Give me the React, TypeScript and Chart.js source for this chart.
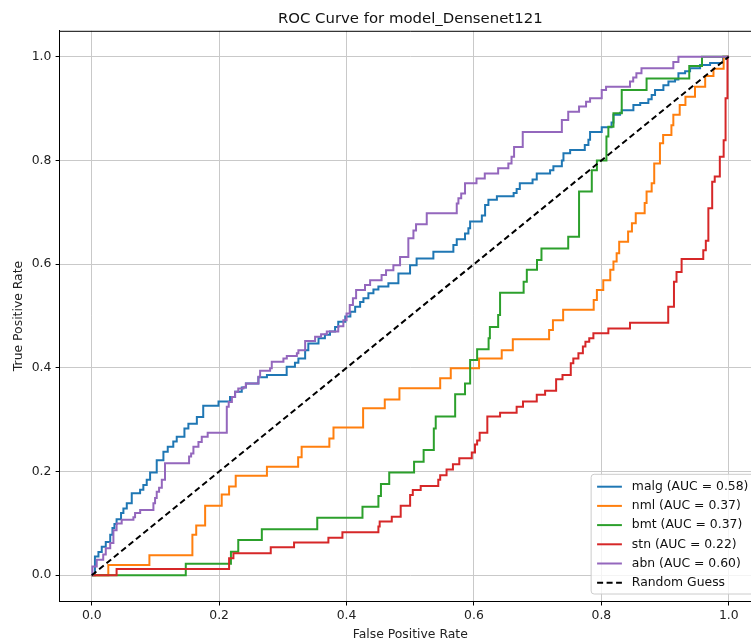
import React, { useEffect, useRef } from "react";
import { Chart, registerables } from "chart.js";

Chart.register(...registerables);

// ---------- data ----------
const seriesNames = ["malg", "nml", "bmt", "stn", "abn"];
const aucValues = [0.58, 0.37, 0.37, 0.22, 0.6];
const seriesColors = ["#1f77b4", "#ff7f0e", "#2ca02c", "#d62728", "#9467bd"];
const tickValues = [0, 0.2, 0.4, 0.6, 0.8, 1.0];

const malgFpr = [0, 0.005, 0.0105, 0.0157, 0.022, 0.029, 0.0325, 0.0356, 0.039, 0.046, 0.0497, 0.055, 0.0628, 0.0759, 0.081, 0.0863, 0.0916, 0.102, 0.1125, 0.1193, 0.128, 0.1334, 0.1455, 0.1517, 0.165, 0.175, 0.199, 0.217, 0.225, 0.2355, 0.242, 0.2616, 0.275, 0.306, 0.319, 0.3244, 0.335, 0.34, 0.356, 0.366, 0.374, 0.382, 0.387, 0.398, 0.406, 0.4135, 0.4213, 0.4265, 0.4343, 0.4422, 0.45, 0.4657, 0.4814, 0.4997, 0.51, 0.5363, 0.5677, 0.573, 0.586, 0.5913, 0.594, 0.6124, 0.6175, 0.6227, 0.636, 0.6623, 0.667, 0.672, 0.692, 0.6986, 0.7195, 0.7247, 0.738, 0.7405, 0.751, 0.774, 0.7797, 0.7823, 0.8006, 0.816, 0.819, 0.8294, 0.832, 0.8503, 0.861, 0.8738, 0.879, 0.8843, 0.8974, 0.9053, 0.9157, 0.921, 0.9315, 0.9393, 0.955, 0.9707, 0.991, 1];
const malgTpr = [0, 0.036, 0.045, 0.055, 0.064, 0.078, 0.091, 0.099, 0.108, 0.12, 0.129, 0.139, 0.158, 0.165, 0.174, 0.184, 0.198, 0.222, 0.238, 0.248, 0.258, 0.267, 0.283, 0.292, 0.305, 0.327, 0.335, 0.344, 0.354, 0.362, 0.37, 0.382, 0.386, 0.402, 0.41, 0.418, 0.434, 0.447, 0.457, 0.464, 0.47, 0.479, 0.489, 0.499, 0.508, 0.518, 0.527, 0.534, 0.544, 0.551, 0.557, 0.563, 0.582, 0.598, 0.611, 0.624, 0.637, 0.648, 0.659, 0.669, 0.682, 0.694, 0.714, 0.724, 0.731, 0.737, 0.745, 0.756, 0.763, 0.775, 0.781, 0.789, 0.8, 0.814, 0.82, 0.83, 0.84, 0.855, 0.864, 0.873, 0.888, 0.892, 0.897, 0.907, 0.911, 0.918, 0.926, 0.936, 0.945, 0.952, 0.956, 0.968, 0.972, 0.978, 0.984, 0.988, 1.0, 1];

const nmlFpr = [0, 0.026, 0.0905, 0.158, 0.164, 0.178, 0.204, 0.2156, 0.226, 0.275, 0.324, 0.3295, 0.373, 0.3795, 0.426, 0.46, 0.483, 0.547, 0.5636, 0.608, 0.6436, 0.661, 0.718, 0.724, 0.74, 0.788, 0.793, 0.803, 0.814, 0.819, 0.824, 0.828, 0.842, 0.848, 0.854, 0.868, 0.871, 0.879, 0.883, 0.892, 0.897, 0.91, 0.913, 0.923, 0.932, 0.947, 0.963, 0.976, 0.992, 1];
const nmlTpr = [0, 0.02, 0.0386, 0.078, 0.096, 0.134, 0.156, 0.171, 0.192, 0.2095, 0.2275, 0.248, 0.264, 0.285, 0.322, 0.339, 0.3605, 0.38, 0.399, 0.418, 0.434, 0.455, 0.473, 0.492, 0.512, 0.531, 0.55, 0.569, 0.589, 0.605, 0.621, 0.643, 0.663, 0.679, 0.698, 0.718, 0.74, 0.756, 0.794, 0.833, 0.849, 0.868, 0.888, 0.907, 0.923, 0.942, 0.963, 0.977, 1.0, 1];

const bmtFpr = [0, 0.1476, 0.2185, 0.23, 0.267, 0.354, 0.425, 0.45, 0.454, 0.467, 0.506, 0.521, 0.537, 0.54, 0.5705, 0.586, 0.594, 0.605, 0.623, 0.625, 0.638, 0.641, 0.678, 0.683, 0.699, 0.706, 0.748, 0.765, 0.785, 0.793, 0.808, 0.811, 0.819, 0.832, 0.871, 0.938, 0.958, 1];
const bmtTpr = [0, 0.022, 0.0456, 0.068, 0.0887, 0.111, 0.132, 0.153, 0.176, 0.198, 0.219, 0.2416, 0.283, 0.306, 0.349, 0.37, 0.415, 0.436, 0.457, 0.479, 0.502, 0.545, 0.566, 0.589, 0.608, 0.63, 0.653, 0.74, 0.781, 0.8, 0.846, 0.865, 0.891, 0.936, 0.958, 0.982, 1.0, 1];

const stnFpr = [0, 0.039, 0.2156, 0.2224, 0.281, 0.3176, 0.3715, 0.3935, 0.45, 0.452, 0.471, 0.485, 0.4998, 0.504, 0.5164, 0.544, 0.547, 0.557, 0.567, 0.577, 0.5966, 0.6016, 0.605, 0.609, 0.621, 0.641, 0.667, 0.677, 0.6986, 0.7117, 0.729, 0.739, 0.752, 0.756, 0.764, 0.771, 0.775, 0.781, 0.7875, 0.811, 0.845, 0.905, 0.914, 0.918, 0.926, 0.96, 0.964, 0.968, 0.974, 0.978, 0.986, 0.992, 0.995, 0.998, 1];
const stnTpr = [0, 0.0122, 0.0328, 0.0424, 0.054, 0.063, 0.0726, 0.083, 0.094, 0.1035, 0.113, 0.134, 0.155, 0.1645, 0.172, 0.184, 0.193, 0.204, 0.214, 0.2256, 0.237, 0.252, 0.26, 0.275, 0.306, 0.3136, 0.325, 0.335, 0.348, 0.356, 0.378, 0.386, 0.409, 0.418, 0.428, 0.441, 0.4505, 0.457, 0.4666, 0.476, 0.487, 0.518, 0.566, 0.585, 0.61, 0.627, 0.645, 0.7076, 0.759, 0.769, 0.807, 0.839, 0.92, 1.0, 1];

const abnFpr = [0, 0.001, 0.0078, 0.018, 0.022, 0.029, 0.034, 0.039, 0.047, 0.0654, 0.068, 0.076, 0.0968, 0.0994, 0.102, 0.1057, 0.11, 0.115, 0.1528, 0.156, 0.1596, 0.1675, 0.1727, 0.182, 0.212, 0.215, 0.22, 0.225, 0.23, 0.238, 0.242, 0.2616, 0.2643, 0.28, 0.2826, 0.3009, 0.3062, 0.322, 0.3244, 0.335, 0.3506, 0.36, 0.369, 0.387, 0.395, 0.4, 0.405, 0.41, 0.415, 0.429, 0.437, 0.455, 0.462, 0.4735, 0.484, 0.497, 0.505, 0.5091, 0.5259, 0.573, 0.5756, 0.58, 0.586, 0.604, 0.617, 0.638, 0.654, 0.659, 0.663, 0.6766, 0.738, 0.748, 0.765, 0.776, 0.7823, 0.8006, 0.8074, 0.845, 0.85, 0.855, 0.863, 0.913, 0.921, 1];
const abnTpr = [0, 0.0167, 0.03, 0.04, 0.052, 0.062, 0.087, 0.1, 0.107, 0.112, 0.12, 0.126, 0.139, 0.149, 0.161, 0.169, 0.184, 0.216, 0.229, 0.235, 0.248, 0.257, 0.267, 0.275, 0.325, 0.334, 0.344, 0.354, 0.36, 0.3625, 0.37, 0.383, 0.3946, 0.399, 0.412, 0.418, 0.423, 0.428, 0.434, 0.452, 0.46, 0.465, 0.47, 0.48, 0.492, 0.505, 0.521, 0.534, 0.55, 0.56, 0.569, 0.579, 0.588, 0.598, 0.614, 0.65, 0.665, 0.677, 0.698, 0.717, 0.727, 0.736, 0.756, 0.765, 0.775, 0.785, 0.794, 0.807, 0.826, 0.855, 0.878, 0.894, 0.904, 0.913, 0.92, 0.936, 0.942, 0.952, 0.96, 0.968, 0.978, 0.99, 1.0, 1];

const guessFpr = [0, 1];
const guessTpr = [0, 1];

const seriesFpr = [malgFpr, nmlFpr, bmtFpr, stnFpr, abnFpr];
const seriesTpr = [malgTpr, nmlTpr, bmtTpr, stnTpr, abnTpr];

// ---------- styling ----------
const FONT = "'DejaVu Sans', 'Liberation Sans', sans-serif";
const CANVAS_W = 780;
const CANVAS_H = 644;
const LINE_W = 2;

const toPoints = (xs: number[], ys: number[]) => xs.map((x, i) => ({ x, y: ys[i] }));

const framePlugin = {
  id: "frame",
  afterDraw(chart: any) {
    const { ctx, chartArea } = chart;
    ctx.save();
    ctx.strokeStyle = "#000";
    ctx.lineWidth = 1;
    ctx.beginPath();
    ctx.moveTo(chartArea.left, chartArea.top + 0.5);
    ctx.lineTo(chartArea.right, chartArea.top + 0.5);
    ctx.moveTo(chartArea.right - 0.5, chartArea.top);
    ctx.lineTo(chartArea.right - 0.5, chartArea.bottom);
    ctx.stroke();
    ctx.fillStyle = "#111";
    ctx.font = `14.9px ${FONT}`;
    ctx.textAlign = "center";
    ctx.textBaseline = "alphabetic";
    ctx.fillText("ROC Curve for model_Densenet121", (chartArea.left + chartArea.right) / 2, chartArea.top - 7.6);
    ctx.restore();
  },
};

const legendPlugin = {
  id: "boxLegend",
  afterDraw(chart: any) {
    const { ctx, chartArea } = chart;
    const fs = 12.4;
    const labels = seriesNames.map((n, i) => `${n} (AUC = ${aucValues[i].toFixed(2)})`);
    labels.push("Random Guess");
    const colors = [...seriesColors, "#000"];
    ctx.save();
    ctx.font = `${fs}px ${FONT}`;
    const textW = Math.max(...labels.map((l) => ctx.measureText(l).width));
    const rowH = 19.2;
    const pad = fs * 0.4;
    const handleLen = fs * 2;
    const gap = fs * 0.8;
    const boxW = pad * 2 + handleLen + gap + textW + 2;
    const right = chartArea.right - fs * 0.5;
    const bottom = chartArea.bottom - 7.2;
    const lastRow = bottom - 11.3;
    const firstRow = lastRow - rowH * (labels.length - 1);
    const top = firstRow - 12.4;
    const left = right - boxW;
    const r = 3;
    ctx.beginPath();
    ctx.moveTo(left + r, top);
    ctx.lineTo(right - r, top);
    ctx.quadraticCurveTo(right, top, right, top + r);
    ctx.lineTo(right, bottom - r);
    ctx.quadraticCurveTo(right, bottom, right - r, bottom);
    ctx.lineTo(left + r, bottom);
    ctx.quadraticCurveTo(left, bottom, left, bottom - r);
    ctx.lineTo(left, top + r);
    ctx.quadraticCurveTo(left, top, left + r, top);
    ctx.closePath();
    ctx.fillStyle = "rgba(255,255,255,0.8)";
    ctx.fill();
    ctx.strokeStyle = "#cccccc";
    ctx.lineWidth = 1;
    ctx.stroke();
    labels.forEach((label, i) => {
      const cy = firstRow + rowH * i;
      const hx = left + pad + 1;
      ctx.beginPath();
      ctx.strokeStyle = colors[i];
      ctx.lineWidth = LINE_W;
      ctx.setLineDash(i === labels.length - 1 ? [6, 3.5] : []);
      ctx.moveTo(hx, cy);
      ctx.lineTo(hx + handleLen, cy);
      ctx.stroke();
      ctx.setLineDash([]);
      ctx.fillStyle = "#111";
      ctx.textAlign = "left";
      ctx.textBaseline = "middle";
      ctx.fillText(label, hx + handleLen + gap, cy);
    });
    ctx.restore();
  },
};

export default function App() {
  const canvasRef = useRef<HTMLCanvasElement | null>(null);

  useEffect(() => {
    if (!canvasRef.current) return;
    const datasets: any[] = seriesNames.map((name, i) => ({
      label: `${name} (AUC = ${aucValues[i].toFixed(2)})`,
      data: toPoints(seriesFpr[i], seriesTpr[i]),
      borderColor: seriesColors[i],
      backgroundColor: seriesColors[i],
      borderWidth: LINE_W,
      pointRadius: 0,
      stepped: "before",
      fill: false,
      order: 10 - i,
    }));
    datasets.push({
      label: "Random Guess",
      data: toPoints(guessFpr, guessTpr),
      borderColor: "#000",
      borderWidth: LINE_W,
      borderDash: [6, 3.5],
      pointRadius: 0,
      fill: false,
      order: 0,
    });

    const tickFont = { family: FONT, size: 12.4 };
    const chart = new Chart(canvasRef.current, {
      type: "line",
      data: { datasets },
      options: {
        responsive: true,
        maintainAspectRatio: false,
        animation: false,
        devicePixelRatio: 1,
        layout: { padding: { left: 0, top: 30.8, right: CANVAS_W - 760.6, bottom: 0 } },
        plugins: {
          legend: { display: false },
          tooltip: { enabled: false },
          title: { display: false },
        },
        scales: {
          x: {
            type: "linear",
            min: -0.05,
            max: 1.05,
            afterBuildTicks: (s: any) => {
              s.ticks = tickValues.map((v) => ({ value: v }));
            },
            afterFit: (s: any) => {
              s.height = CANVAS_H - 601.2;
            },
            grid: { color: "#c9c9c9", lineWidth: 1, tickColor: "#000", tickLength: 4.3, drawTicks: true },
            border: { color: "#000", width: 1 },
            ticks: {
              color: "#222",
              font: tickFont,
              padding: 3,
              maxRotation: 0,
              autoSkip: false,
              callback: (v: any) => Number(v).toFixed(1),
            },
            title: {
              display: true,
              text: "False Positive Rate",
              color: "#222",
              font: tickFont,
              padding: { top: 0, bottom: 1.5 },
            },
          },
          y: {
            type: "linear",
            min: -0.05,
            max: 1.05,
            afterBuildTicks: (s: any) => {
              s.ticks = tickValues.map((v) => ({ value: v }));
            },
            afterFit: (s: any) => {
              s.width = 59.9;
            },
            grid: { color: "#c9c9c9", lineWidth: 1, tickColor: "#000", tickLength: 4.3, drawTicks: true },
            border: { color: "#000", width: 1 },
            ticks: {
              color: "#222",
              font: tickFont,
              padding: 4.2,
              autoSkip: false,
              callback: (v: any) => Number(v).toFixed(1),
            },
            title: {
              display: true,
              text: "True Positive Rate",
              color: "#222",
              font: tickFont,
              padding: { top: 11, bottom: 0 },
            },
          },
        },
      } as any,
      plugins: [framePlugin, legendPlugin],
    });
    return () => chart.destroy();
  }, []);

  return (
    <div style={{ position: "fixed", left: 0, top: 0, width: 751, height: 644, overflow: "hidden", background: "#fff" }}>
      <div style={{ position: "relative", width: CANVAS_W, height: CANVAS_H }}>
        <canvas ref={canvasRef} />
      </div>
    </div>
  );
}
